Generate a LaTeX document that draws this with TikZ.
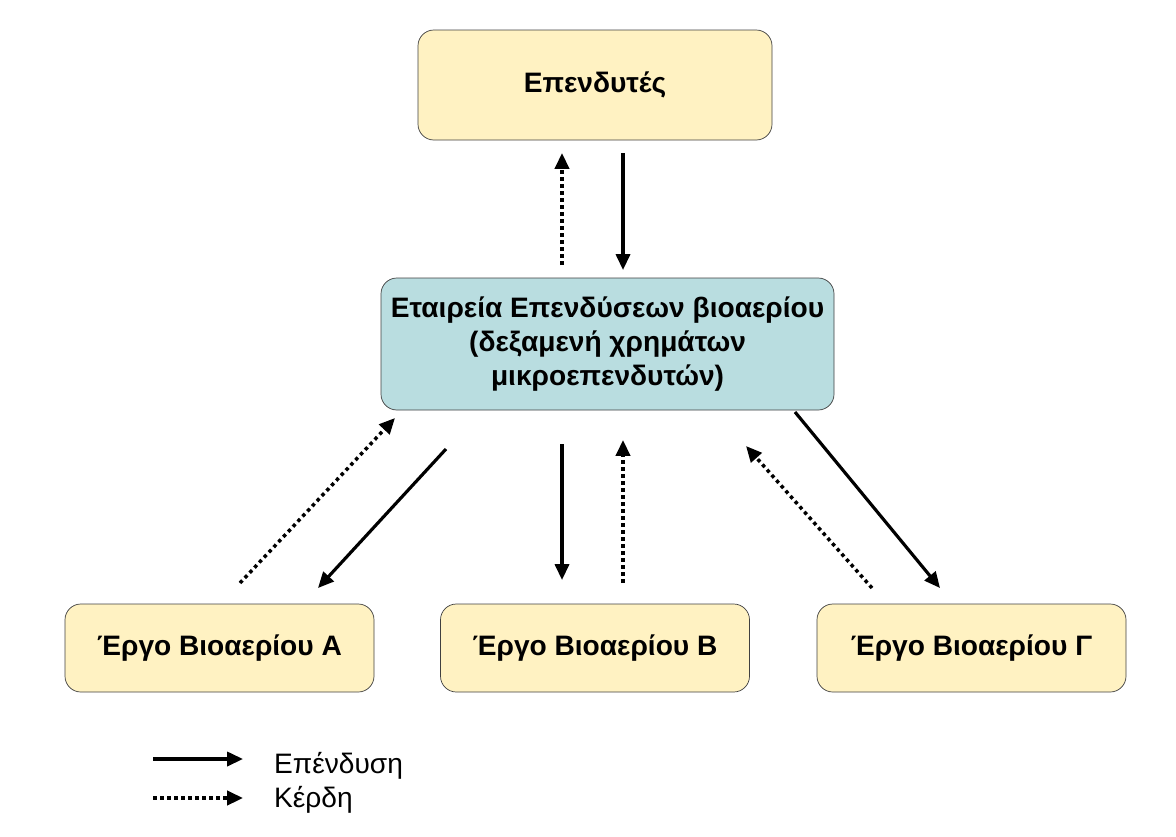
\documentclass[tikz,border=0pt]{standalone}
\usepackage{fontspec}
\setmainfont{Liberation Sans}
\usetikzlibrary{positioning,arrows.meta}
\definecolor{boxyellow}{HTML}{FFF2C2}
\definecolor{boxblue}{HTML}{B9DDE0}

\begin{document}
\begin{tikzpicture}[x=0.02cm,y=-0.02cm,
  box/.style={draw=black!75,rounded corners=9pt,fill=boxyellow,align=center,
    font=\fontsize{16}{19.3}\selectfont\bfseries,inner sep=0pt},
  invest/.style={line width=1.8pt,-{Triangle[length=9pt,width=8pt]}},
  gain/.style={line width=2pt,dotted,-{Triangle[length=9pt,width=8pt]}}]
\useasboundingbox (0,0) rectangle (1176,836);

\node[box,minimum width=354*0.02cm,minimum height=110*0.02cm] (inv) at (595,85) {Επενδυτές};
\node[box,fill=boxblue,minimum width=453*0.02cm,minimum height=132*0.02cm] (comp) at (607.5,344)
  {Εταιρεία Επενδύσεων βιοαερίου\\(δεξαμενή χρημάτων\\μικροεπενδυτών)};
\node[box,minimum width=309*0.02cm,minimum height=88*0.02cm] (pa) at (219.5,648) {Έργο Βιοαερίου Α};
\node[box,minimum width=309*0.02cm,minimum height=88*0.02cm] (pb) at (595,648) {Έργο Βιοαερίου Β};
\node[box,minimum width=309*0.02cm,minimum height=88*0.02cm] (pc) at (971.5,648) {Έργο Βιοαερίου Γ};

% arrow ends
\coordinate (i1) at (623,153); \coordinate (i2) at (623,270);
\coordinate (g1) at (562,265); \coordinate (g2) at (562,153);
\coordinate (a1) at (446,449); \coordinate (a2) at (318,588);
\coordinate (a3) at (240,583); \coordinate (a4) at (395,418);
\coordinate (b1) at (562,444); \coordinate (b2) at (562,580);
\coordinate (b3) at (623,583); \coordinate (b4) at (623,440);
\coordinate (c1) at (795,412); \coordinate (c2) at (940,588);
\coordinate (c3) at (872,588); \coordinate (c4) at (746,446);

\draw[invest] (i1) -- (i2);
\draw[gain] (g1) -- (g2);
\draw[invest] (a1) -- (a2);
\draw[gain] (a3) -- (a4);
\draw[invest] (b1) -- (b2);
\draw[gain] (b3) -- (b4);
\draw[invest] (c1) -- (c2);
\draw[gain] (c3) -- (c4);

% legend
\coordinate (l1) at (153,759); \coordinate (l2) at (243,759);
\coordinate (l3) at (153,798); \coordinate (l4) at (243,798);
\draw[invest] (l1) -- (l2);
\draw[gain] (l3) -- (l4);
\node[anchor=west,font=\fontsize{16}{19}\selectfont] (t1) at (268,766) {Επένδυση};
\node[anchor=west,font=\fontsize{16}{19}\selectfont] (t2) at (268,800) {Κέρδη};
\end{tikzpicture}
\end{document}
